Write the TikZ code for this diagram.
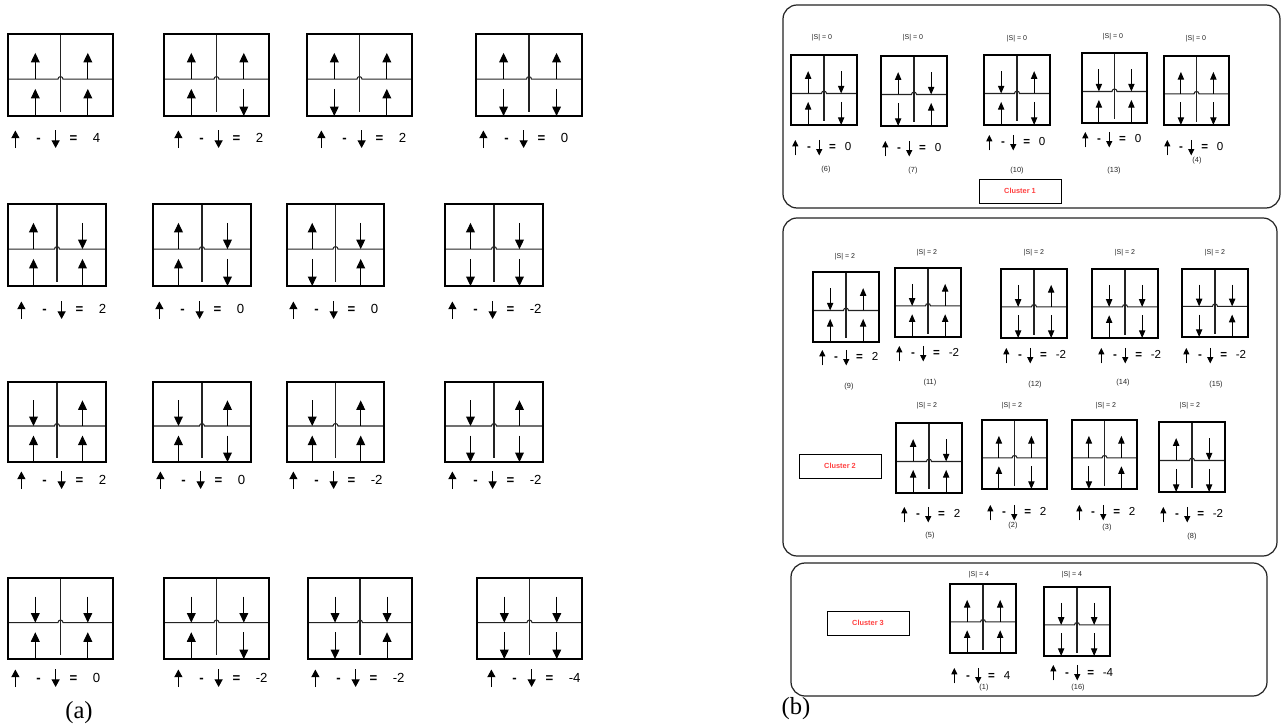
\documentclass[tikz,border=0pt]{standalone}
\usepackage{fontspec}
\setmainfont{Liberation Sans}
\newfontfamily\serifont{Liberation Serif}
\usepackage{tikz}
\usetikzlibrary{arrows.meta}
\definecolor{clusterred}{RGB}{255,64,64}
\definecolor{linegray}{RGB}{35,35,35}

% one 2x2 plaquette: [arrow style]{x}{y}{width}{height}{spins TL,TR,BL,BR}
\newcommand{\spinbox}[6][spin]{%
  \begin{scope}[shift={(#2,#3)}]
    \draw[cellline] ({#4/2},0) -- ({#4/2},{0.95*#5});
    \draw[cellline] (0,{0.55*#5}) -- ({#4/2-2.5},{0.55*#5})
      arc[start angle=180,end angle=360,radius=2.5] -- (#4,{0.55*#5});
    \draw[cellbox] (0,0) rectangle (#4,#5);
    \foreach \s [count=\i] in {#6} {
      \pgfmathsetmacro\ax{(mod(\i-1,2)==0 ? 0.26 : 0.76)*#4}
      \pgfmathsetmacro\ylo{(\i<3 ? 0.55 : 1)*#5}
      \pgfmathsetmacro\yhi{(\i<3 ? 0.23 : 0.67)*#5}
      \ifnum\s>0
        \draw[#1] (\ax,\ylo) -- (\ax,\yhi);
      \else
        \draw[#1] (\ax,\yhi) -- (\ax,\ylo);
      \fi
    }
  \end{scope}}
\newcommand{\uparr}[2]{\tikz[baseline=0pt]\draw[#1] (0pt,-0.38em) -- (0pt,#2);}
\newcommand{\dnarr}[2]{\tikz[baseline=0pt]\draw[#1] (0pt,#2) -- (0pt,-0.38em);}
\newcommand{\sumL}[1]{\uparr{sumarrL}{0.95em}\hspace{9.6pt}\textbf{-}\hspace{6.2pt}\dnarr{sumarrL}{0.95em}\hspace{5.7pt}\textbf{=}\hspace{8.8pt}#1}
\newcommand{\sumR}[1]{\uparr{sumarrR}{0.95em}\hspace{5pt}\textbf{-}\hspace{3pt}\dnarr{sumarrR}{0.95em}\hspace{4pt}\textbf{=}\hspace{5pt}#1}

\begin{document}
\begin{tikzpicture}[x=0.02cm, y=-0.02cm,
  cellbox/.style={draw=black, line width=0.75pt},
  cellline/.style={draw=linegray, line width=0.6pt},
  spin/.style={-{Triangle[width=5pt,length=5.4pt]}, line width=0.6pt},
  spinsm/.style={-{Triangle[width=3.6pt,length=4.4pt]}, line width=0.6pt},
  sumarrL/.style={-{Triangle[width=4.6pt,length=4.4pt]}, line width=0.6pt},
  sumarrR/.style={-{Triangle[width=3.4pt,length=3.6pt]}, line width=0.55pt},
  sumL/.style={anchor=base west, inner sep=0pt, font=\fontsize{7.5}{8}\selectfont},
  sumR/.style={anchor=base west, inner sep=0pt, font=\fontsize{6.6}{7}\selectfont},
  stag/.style={inner sep=0pt, text=linegray, font=\fontsize{4}{5}\selectfont},
  idx/.style={inner sep=0pt, text=linegray, font=\fontsize{4.2}{5}\selectfont},
  clbox/.style={draw=black, line width=0.5pt, minimum width=1.64cm,
                minimum height=0.48cm, inner sep=0pt, text=clusterred,
                font=\fontsize{4.2}{5}\selectfont\bfseries},
  frame/.style={draw=linegray, line width=0.7pt, rounded corners=8pt},
  panel/.style={inner sep=0pt, font=\serifont\fontsize{14}{16}\selectfont}
]
\useasboundingbox (0,0) rectangle (1286,726);

% (a) all sixteen configurations
\spinbox{8}{34}{105}{82}{1,1,1,1}
\spinbox{164}{34}{105}{82}{1,1,1,-1}
\spinbox{307}{34}{105}{82}{1,1,-1,1}
\spinbox{476}{34}{106}{82}{1,1,-1,-1}
\spinbox{8}{204}{98}{82}{1,-1,1,1}
\spinbox{153}{204}{98}{82}{1,-1,1,-1}
\spinbox{287}{204}{97}{82}{1,-1,-1,1}
\spinbox{445}{204}{98}{82}{1,-1,-1,-1}
\spinbox{8}{382}{98}{80}{-1,1,1,1}
\spinbox{153}{382}{98}{80}{-1,1,1,-1}
\spinbox{287}{382}{97}{80}{-1,1,1,1}
\spinbox{445}{382}{98}{80}{-1,1,-1,-1}
\spinbox{8}{578}{105}{81}{-1,-1,1,1}
\spinbox{164}{578}{105}{81}{-1,-1,1,-1}
\spinbox{308}{578}{104}{81}{-1,-1,-1,1}
\spinbox{477}{578}{105}{81}{-1,-1,-1,-1}

\node[sumL] (va1)  at (11,143)  {\sumL{4}};
\node[sumL] (va2)  at (174,143) {\sumL{2}};
\node[sumL] (va3)  at (317,143) {\sumL{2}};
\node[sumL] (va4)  at (479,143) {\sumL{0}};
\node[sumL] (va5)  at (17,314)  {\sumL{2}};
\node[sumL] (va6)  at (155,314) {\sumL{0}};
\node[sumL] (va7)  at (289,314) {\sumL{0}};
\node[sumL] (va8)  at (448,314) {\sumL{-2}};
\node[sumL] (va9)  at (17,484)  {\sumL{2}};
\node[sumL] (va10) at (156,484) {\sumL{0}};
\node[sumL] (va11) at (289,484) {\sumL{-2}};
\node[sumL] (va12) at (448,484) {\sumL{-2}};
\node[sumL] (va13) at (11,682)  {\sumL{0}};
\node[sumL] (va14) at (174,682) {\sumL{-2}};
\node[sumL] (va15) at (311,682) {\sumL{-2}};
\node[sumL] (va16) at (487,682) {\sumL{-4}};

\node[panel] (pa) at (79,713) {(a)};

% (b) the three clusters
\draw[frame] (783,5) rectangle (1280,208);
\draw[frame] (783,218) rectangle (1277,556);
\draw[frame] (791,563) rectangle (1267,696);

% cluster 1, |S| = 0
\spinbox[spinsm]{791}{55}{66}{70}{1,-1,1,-1}
\spinbox[spinsm]{881}{56}{66}{70}{1,-1,-1,1}
\spinbox[spinsm]{984}{55}{66}{70}{-1,1,1,-1}
\spinbox[spinsm]{1082}{53}{65}{70}{-1,-1,1,1}
\spinbox[spinsm]{1164}{56}{65}{69}{1,1,-1,-1}
\node[stag] (s6)  at (822,38)  {|S| = 0};
\node[stag] (s7)  at (913,38)  {|S| = 0};
\node[stag] (s10) at (1017,39) {|S| = 0};
\node[stag] (s13) at (1113,37) {|S| = 0};
\node[stag] (s4)  at (1196,39) {|S| = 0};
\node[sumR] (v6)  at (792,151)  {\sumR{0}};
\node[sumR] (v7)  at (882,152)  {\sumR{0}};
\node[sumR] (v10) at (986,146)  {\sumR{0}};
\node[sumR] (v13) at (1082,143) {\sumR{0}};
\node[sumR] (v4)  at (1164,151) {\sumR{0}};
\node[idx] (n6)  at (826,170)  {(6)};
\node[idx] (n7)  at (913,171)  {(7)};
\node[idx] (n10) at (1017,171) {(10)};
\node[idx] (n13) at (1114,171) {(13)};
\node[idx] (n4)  at (1197,161) {(4)};
\node[clbox] (c1) at (1020,191) {Cluster 1};

% cluster 2, |S| = 2
\spinbox[spinsm]{813}{272}{66}{70}{-1,1,1,1}
\spinbox[spinsm]{895}{268}{66}{69}{-1,1,1,1}
\spinbox[spinsm]{1001}{269}{66}{69}{-1,1,-1,-1}
\spinbox[spinsm]{1092}{269}{66}{69}{-1,-1,1,-1}
\spinbox[spinsm]{1182}{269}{66}{68}{-1,-1,-1,1}
\spinbox[spinsm]{896}{423}{66}{70}{1,-1,1,1}
\spinbox[spinsm]{982}{420}{65}{69}{1,1,1,-1}
\spinbox[spinsm]{1072}{420}{65}{69}{1,1,-1,1}
\spinbox[spinsm]{1159}{422}{66}{70}{1,-1,-1,-1}
\node[stag] (s9)  at (845,257)  {|S| = 2};
\node[stag] (s11) at (927,253)  {|S| = 2};
\node[stag] (s12) at (1034,253) {|S| = 2};
\node[stag] (s14) at (1125,253) {|S| = 2};
\node[stag] (s15) at (1215,253) {|S| = 2};
\node[stag] (s5)  at (927,406)  {|S| = 2};
\node[stag] (s2)  at (1012,406) {|S| = 2};
\node[stag] (s3)  at (1106,406) {|S| = 2};
\node[stag] (s8)  at (1190,406) {|S| = 2};
\node[sumR] (v9)  at (819,361)  {\sumR{2}};
\node[sumR] (v11) at (896,357)  {\sumR{-2}};
\node[sumR] (v12) at (1003,359) {\sumR{-2}};
\node[sumR] (v14) at (1098,359) {\sumR{-2}};
\node[sumR] (v15) at (1183,359) {\sumR{-2}};
\node[sumR] (v5)  at (901,518)  {\sumR{2}};
\node[sumR] (v2)  at (987,516)  {\sumR{2}};
\node[sumR] (v3)  at (1076,516) {\sumR{2}};
\node[sumR] (v8)  at (1160,518) {\sumR{-2}};
\node[idx] (n9)  at (849,387)  {(9)};
\node[idx] (n11) at (930,383)  {(11)};
\node[idx] (n12) at (1035,385) {(12)};
\node[idx] (n14) at (1123,383) {(14)};
\node[idx] (n15) at (1216,385) {(15)};
\node[idx] (n5)  at (930,536)  {(5)};
\node[idx] (n2)  at (1013,526) {(2)};
\node[idx] (n3)  at (1107,528) {(3)};
\node[idx] (n8)  at (1192,537) {(8)};
\node[clbox] (c2) at (840,466) {Cluster 2};

% cluster 3, |S| = 4
\spinbox[spinsm]{950}{584}{66}{69}{1,1,1,1}
\spinbox[spinsm]{1044}{587}{66}{69}{-1,-1,-1,-1}
\node[stag] (s1)  at (979,575)  {|S| = 4};
\node[stag] (s16) at (1072,575) {|S| = 4};
\node[sumR] (v1)  at (951,679)  {\sumR{4}};
\node[sumR] (v16) at (1050,676) {\sumR{-4}};
\node[idx] (n1)  at (984,688)  {(1)};
\node[idx] (n16) at (1078,688) {(16)};
\node[clbox] (c3) at (868,623) {Cluster 3};

\node[panel] (pb) at (796,709) {(b)};
\end{tikzpicture}
\end{document}
